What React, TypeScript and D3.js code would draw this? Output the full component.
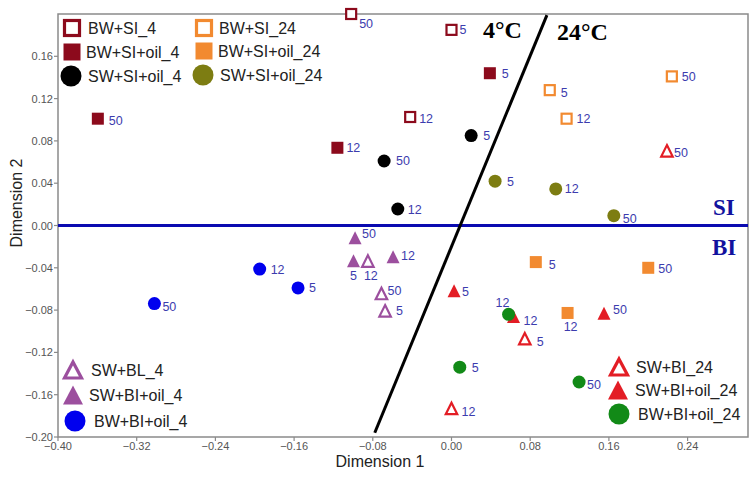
import React from "react";
import * as d3 from "d3";

const W = 755;
const H = 477;

const timeLabels = ["5", "12", "50"];

// Series values (Dimension 1, Dimension 2) for sampling times 5, 12, 50
const bwSi4X = [0.0, -0.042, -0.102];
const bwSi4Y = [0.185, 0.1026, 0.2];
const bwSiOil4X = [0.039, -0.116, -0.3595];
const bwSiOil4Y = [0.144, 0.0735, 0.101];
const swSiOil4X = [0.02, -0.0546, -0.0685];
const swSiOil4Y = [0.085, 0.0156, 0.061];
const bwSi24X = [0.0999, 0.117, 0.224];
const bwSi24Y = [0.128, 0.101, 0.141];
const bwSiOil24X = [0.0857, 0.118, 0.2];
const bwSiOil24Y = [-0.0346, -0.0827, -0.04];
const swSiOil24X = [0.0443, 0.106, 0.165];
const swSiOil24Y = [0.0419, 0.0346, 0.0093];
const swBi4X = [-0.0675, -0.085, -0.0712];
const swBi4Y = [-0.0807, -0.0336, -0.0643];
const swBiOil4X = [-0.0996, -0.0594, -0.098];
const swBiOil4Y = [-0.0334, -0.0296, -0.0116];
const bwBiOil4X = [-0.156, -0.195, -0.302];
const bwBiOil4Y = [-0.059, -0.0412, -0.0738];
const swBi24X = [0.0745, 0.0, 0.219];
const swBi24Y = [-0.107, -0.173, 0.0706];
const swBiOil24X = [0.0026, 0.063, 0.155];
const swBiOil24Y = [-0.0618, -0.086, -0.083];
const bwBiOil24X = [0.0084, 0.058, 0.1297];
const bwBiOil24Y = [-0.134, -0.084, -0.148];

const xTicks = [-0.4, -0.32, -0.24, -0.16, -0.08, 0.0, 0.08, 0.16, 0.24];
const yTicks = [-0.2, -0.16, -0.12, -0.08, -0.04, 0.0, 0.04, 0.08, 0.12, 0.16];

const boundaryX = [-0.078, 0.097];
const boundaryY = [-0.196, 0.199];

type Shape = "square" | "circle" | "triangle";

interface Series {
  key: string;
  name: string;
  xs: number[];
  ys: number[];
  shape: Shape;
  filled: boolean;
  color: string;
}

const MAROON = "#8c0a1c";
const ORANGE = "#f28a30";
const OLIVE = "#7d7d12";
const PURPLE = "#9c4f9e";
const RED = "#e31d25";
const GREEN = "#128a17";
const BLUE = "#0000ee";

const series: Series[] = [
  { key: "a", name: "BW+SI_4", xs: bwSi4X, ys: bwSi4Y, shape: "square", filled: false, color: MAROON },
  { key: "b", name: "BW+SI+oil_4", xs: bwSiOil4X, ys: bwSiOil4Y, shape: "square", filled: true, color: MAROON },
  { key: "c", name: "SW+SI+oil_4", xs: swSiOil4X, ys: swSiOil4Y, shape: "circle", filled: true, color: "#000000" },
  { key: "d", name: "BW+SI_24", xs: bwSi24X, ys: bwSi24Y, shape: "square", filled: false, color: ORANGE },
  { key: "e", name: "BW+SI+oil_24", xs: bwSiOil24X, ys: bwSiOil24Y, shape: "square", filled: true, color: ORANGE },
  { key: "f", name: "SW+SI+oil_24", xs: swSiOil24X, ys: swSiOil24Y, shape: "circle", filled: true, color: OLIVE },
  { key: "g", name: "SW+BL_4", xs: swBi4X, ys: swBi4Y, shape: "triangle", filled: false, color: PURPLE },
  { key: "h", name: "SW+BI+oil_4", xs: swBiOil4X, ys: swBiOil4Y, shape: "triangle", filled: true, color: PURPLE },
  { key: "i", name: "BW+BI+oil_4", xs: bwBiOil4X, ys: bwBiOil4Y, shape: "circle", filled: true, color: BLUE },
  { key: "j", name: "SW+BI_24", xs: swBi24X, ys: swBi24Y, shape: "triangle", filled: false, color: RED },
  { key: "k", name: "SW+BI+oil_24", xs: swBiOil24X, ys: swBiOil24Y, shape: "triangle", filled: true, color: RED },
  { key: "l", name: "BW+BI+oil_24", xs: bwBiOil24X, ys: bwBiOil24Y, shape: "circle", filled: true, color: GREEN },
];

// label placement (layout only): [dx, dy, anchor]
const labelOffsets: Record<string, [number, number, string]> = {
  "a-50": [8, 9, "start"],
  "a-5": [8, 0, "start"],
  "a-12": [9, 1, "start"],
  "b-5": [12, 0, "start"],
  "b-12": [9, 0, "start"],
  "b-50": [11, 2, "start"],
  "c-5": [12, 0, "start"],
  "c-12": [10, 0, "start"],
  "c-50": [12, 0, "start"],
  "d-5": [11, 2, "start"],
  "d-12": [10, 0, "start"],
  "d-50": [10, 0, "start"],
  "e-5": [13, 2, "start"],
  "e-12": [3, 14, "middle"],
  "e-50": [10, 1, "start"],
  "f-5": [12, 0, "start"],
  "f-12": [9, 0, "start"],
  "f-50": [9, 3, "start"],
  "g-5": [11, 0, "start"],
  "g-12": [3, 14, "middle"],
  "g-50": [6, -3, "start"],
  "h-5": [0, 15, "middle"],
  "h-12": [8, -1, "start"],
  "h-50": [7, -4, "start"],
  "i-5": [11, 0, "start"],
  "i-12": [11, 0, "start"],
  "i-50": [8, 3, "start"],
  "j-5": [12, 3, "start"],
  "j-12": [10, 3, "start"],
  "j-50": [7, 2, "start"],
  "k-5": [8, 1, "start"],
  "k-12": [10, 4, "start"],
  "k-50": [9, -4, "start"],
  "l-5": [12, 0, "start"],
  "l-12": [-6, -12, "middle"],
  "l-50": [8, 2, "start"],
};

// legend placement (layout only): series key -> [marker x, marker y, text x]
const legendPos: Record<string, [number, number, number]> = {
  a: [72, 28, 88],
  b: [72, 52, 86],
  c: [71, 76, 88],
  d: [204, 28, 219],
  e: [204, 51, 218],
  f: [203, 75, 220],
  g: [73, 370, 91],
  h: [73, 395, 89],
  i: [75, 421, 94],
  j: [619, 367, 636],
  k: [618, 390, 635],
  l: [619, 414, 638],
};

const SANS = "'Liberation Sans', Arial, sans-serif";
const SERIF = "'Liberation Serif', 'Times New Roman', serif";

function Marker({ shape, filled, color, cx, cy, big }: { shape: Shape; filled: boolean; color: string; cx: number; cy: number; big?: boolean }) {
  const sw = big ? 3.2 : 2.2;
  if (shape === "square") {
    const s = big ? (filled ? 17 : 15) : filled ? 12 : 10;
    return (
      <rect
        x={cx - s / 2}
        y={cy - s / 2}
        width={s}
        height={s}
        fill={filled ? color : "#ffffff"}
        stroke={filled ? "none" : color}
        strokeWidth={sw}
      />
    );
  }
  if (shape === "circle") {
    const r = big ? 10.5 : 6.5;
    return <circle cx={cx} cy={cy} r={r} fill={color} />;
  }
  const w = big ? (filled ? 20 : 17) : filled ? 13 : 11.5;
  const h = big ? (filled ? 19 : 16) : filled ? 13 : 11.5;
  const p = d3.path();
  p.moveTo(cx, cy - h / 2);
  p.lineTo(cx + w / 2, cy + h / 2);
  p.lineTo(cx - w / 2, cy + h / 2);
  p.closePath();
  return (
    <path
      d={p.toString()}
      fill={filled ? color : "#ffffff"}
      stroke={filled ? "none" : color}
      strokeWidth={sw}
      strokeLinejoin="miter"
    />
  );
}

export default function App() {
  const left = 58;
  const right = 748;
  const top = 14;
  const bottom = 437;

  const x = d3.scaleLinear().domain([-0.4, 0.3014]).range([left, right]);
  const y = d3.scaleLinear().domain([-0.2, 0.2]).range([bottom, top]);
  const fmt = d3.format(".2f");

  const boundary = d3
    .line<number>()
    .x((_, i) => x(boundaryX[i]))
    .y((_, i) => y(boundaryY[i]))(boundaryX.map((_, i) => i));

  const axisColor = "#8a8a8a";
  const labelColor = "#3c3cae";

  return (
    <svg
      width={W}
      height={H}
      style={{ position: "absolute", left: 0, top: 0, background: "#ffffff" }}
      xmlns="http://www.w3.org/2000/svg"
    >
      <rect x={0} y={0} width={W} height={H} fill="#ffffff" />

      {/* frame */}
      <rect x={left} y={top} width={right - left} height={bottom - top} fill="none" stroke={axisColor} strokeWidth={1.5} />

      {/* y ticks */}
      {yTicks.map((t) => (
        <g key={"y" + t}>
          <line x1={left - 4} x2={left} y1={y(t)} y2={y(t)} stroke={axisColor} strokeWidth={1.2} />
          <text x={left - 5} y={y(t) + 4} textAnchor="end" fontSize={11} fill="#555" fontFamily={SANS}>
            {fmt(t)}
          </text>
        </g>
      ))}
      {/* x ticks */}
      {xTicks.map((t) => (
        <g key={"x" + t}>
          <line x1={x(t)} x2={x(t)} y1={bottom} y2={bottom + 4} stroke={axisColor} strokeWidth={1.2} />
          <text x={x(t)} y={bottom + 13} textAnchor="middle" fontSize={11} fill="#555" fontFamily={SANS}>
            {fmt(t)}
          </text>
        </g>
      ))}

      <text x={380} y={467} textAnchor="middle" fontSize={16} fill="#222" fontFamily={SANS}>
        Dimension 1
      </text>
      <text
        transform={`translate(22,203) rotate(-90)`}
        textAnchor="middle"
        fontSize={16}
        fill="#222"
        fontFamily={SANS}
      >
        Dimension 2
      </text>

      {/* SI / BI divider */}
      <line x1={left} x2={right} y1={y(0)} y2={y(0)} stroke="#0a0ab0" strokeWidth={3} />
      <text x={713} y={215} fontSize={23} fontWeight="bold" fill="#12129e" fontFamily={SERIF}>
        SI
      </text>
      <text x={712} y={255} fontSize={23} fontWeight="bold" fill="#12129e" fontFamily={SERIF}>
        BI
      </text>

      {/* temperature divider */}
      <path d={boundary || ""} stroke="#000" strokeWidth={3} fill="none" />
      <text x={483} y={38} fontSize={24} fontWeight="bold" fill="#000" fontFamily={SERIF}>
        4°C
      </text>
      <text x={557} y={40} fontSize={24} fontWeight="bold" fill="#000" fontFamily={SERIF}>
        24°C
      </text>

      {/* points */}
      {series.map((s) =>
        s.xs.map((xv, i) => {
          const cx = x(xv);
          const cy = y(s.ys[i]);
          const lab = timeLabels[i];
          const off = labelOffsets[s.key + "-" + lab] || [9, 0, "start"];
          return (
            <g key={s.key + i}>
              <Marker shape={s.shape} filled={s.filled} color={s.color} cx={cx} cy={cy} />
              <text
                x={cx + off[0]}
                y={cy + off[1] + 4.5}
                textAnchor={off[2] as any}
                fontSize={12.5}
                fill={labelColor}
                fontFamily={SANS}
              >
                {lab}
              </text>
            </g>
          );
        })
      )}

      {/* legends */}
      {series.map((s) => {
        const p = legendPos[s.key];
        return (
          <g key={"lg" + s.key}>
            <Marker shape={s.shape} filled={s.filled} color={s.color} cx={p[0]} cy={p[1]} big />
            <text x={p[2]} y={p[1] + 6} fontSize={16} fill="#222" fontFamily={SANS}>
              {s.name}
            </text>
          </g>
        );
      })}
    </svg>
  );
}
